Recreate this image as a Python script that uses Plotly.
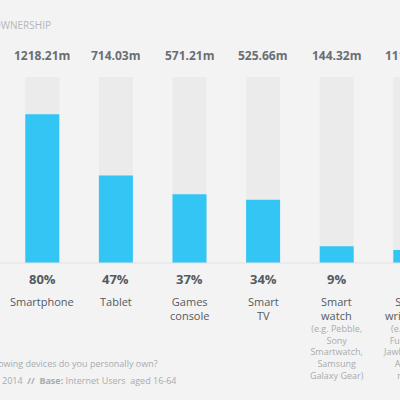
import plotly.graph_objects as go

categories = ["Smartphone", "Tablet", "Games<br>console", "Smart<br>TV", "Smart<br>watch", "Smart<br>wristband"]
details = ["", "", "", "", "(e.g. Pebble,<br>Sony<br>Smartwatch,<br>Samsung<br>Galaxy Gear)",
           "(e.g. Nike<br>Fuelband,<br>Jawbone Up,<br>Amiigo,<br>misfit)"]
percent = [80, 47, 37, 34, 9, 7]
millions = ["1218.21m", "714.03m", "571.21m", "525.66m", "144.32m", "111.02m"]
full = [100] * len(categories)

BG = "#f3f3f3"
BLUE = "#33c5f4"
GRAYBAR = "#ebebeb"
DARK = "#555a60"
LIGHT = "#a9abae"
FONT = "Open Sans"

# pixel helpers (400x400 canvas, zero margins)
BASE_PX, TOP_PX = 263, 77
SCALE = (BASE_PX - TOP_PX) / 100.0
def ypx(py):
    return (BASE_PX - py) / SCALE
X0, STEP = 42.3, 73.6
x_idx = list(range(len(categories)))
xr = [(0 - X0) / STEP, (400 - X0) / STEP]
yr = [ypx(400), ypx(0)]
W = 34 / STEP
def xpaper(i):
    return (i - xr[0]) / (xr[1] - xr[0])

fig = go.Figure()
fig.add_trace(go.Bar(x=x_idx, y=full, width=W, marker=dict(color=GRAYBAR, line=dict(width=0)),
                     hoverinfo="skip"))
fig.add_trace(go.Bar(x=x_idx, y=percent, width=W, marker=dict(color=BLUE, line=dict(width=0)),
                     hoverinfo="skip"))

ann = []
for i in x_idx:
    xp = xpaper(i)
    ann.append(dict(x=xp, y=ypx(55), xref="paper", yref="y", text="<b>%s</b>" % millions[i], showarrow=False,
                    font=dict(family=FONT, size=12, color="#6a6e73"), xanchor="center", yanchor="middle"))
    ann.append(dict(x=xp, y=ypx(279), xref="paper", yref="y", text="<b>%d%%</b>" % percent[i], showarrow=False,
                    font=dict(family=FONT, size=13, color=DARK), xanchor="center", yanchor="middle"))
    ann.append(dict(x=xp, y=ypx(292), xref="paper", yref="y", text=categories[i], showarrow=False,
                    font=dict(family=FONT, size=11, color=DARK), xanchor="center", yanchor="top"))
    if details[i]:
        ann.append(dict(x=xp, y=ypx(320), xref="paper", yref="y", text=details[i], showarrow=False,
                        font=dict(family=FONT, size=9, color=LIGHT), xanchor="center", yanchor="top"))

ann.append(dict(x=53 / 400, y=1 - 25 / 400, xref="paper", yref="paper", text="DEVICE OWNERSHIP",
                showarrow=False, xanchor="right", yanchor="middle",
                font=dict(family=FONT, size=10, color="#b4b6b8")))
ann.append(dict(x=160 / 400, y=1 - 363 / 400, xref="paper", yref="paper",
                text="Question: Which of the following devices do you personally own?",
                showarrow=False, xanchor="right", yanchor="middle",
                font=dict(family=FONT, size=9, color=LIGHT)))
ann.append(dict(x=0, y=1 - 380 / 400, xref="paper", yref="paper",
                text="2014  <b>//</b>  <b>Base:</b> Internet Users  aged 16-64",
                showarrow=False, xanchor="left", yanchor="middle",
                font=dict(family=FONT, size=9, color=LIGHT)))

fig.update_layout(
    width=400, height=400, margin=dict(l=0, r=0, t=0, b=0),
    paper_bgcolor=BG, plot_bgcolor=BG, barmode="overlay", showlegend=False,
    xaxis=dict(range=xr, visible=False, fixedrange=True),
    yaxis=dict(range=yr, visible=False, fixedrange=True),
    annotations=ann,
    shapes=[dict(type="line", xref="paper", yref="y", x0=0, x1=1, y0=0, y1=0,
                 line=dict(color="#e2e2e2", width=1))],
)
fig.write_html("out.html", config={"displayModeBar": False},
               post_script="document.body.style.margin='0';document.body.style.overflow='hidden';document.body.style.background='%s';" % BG)
